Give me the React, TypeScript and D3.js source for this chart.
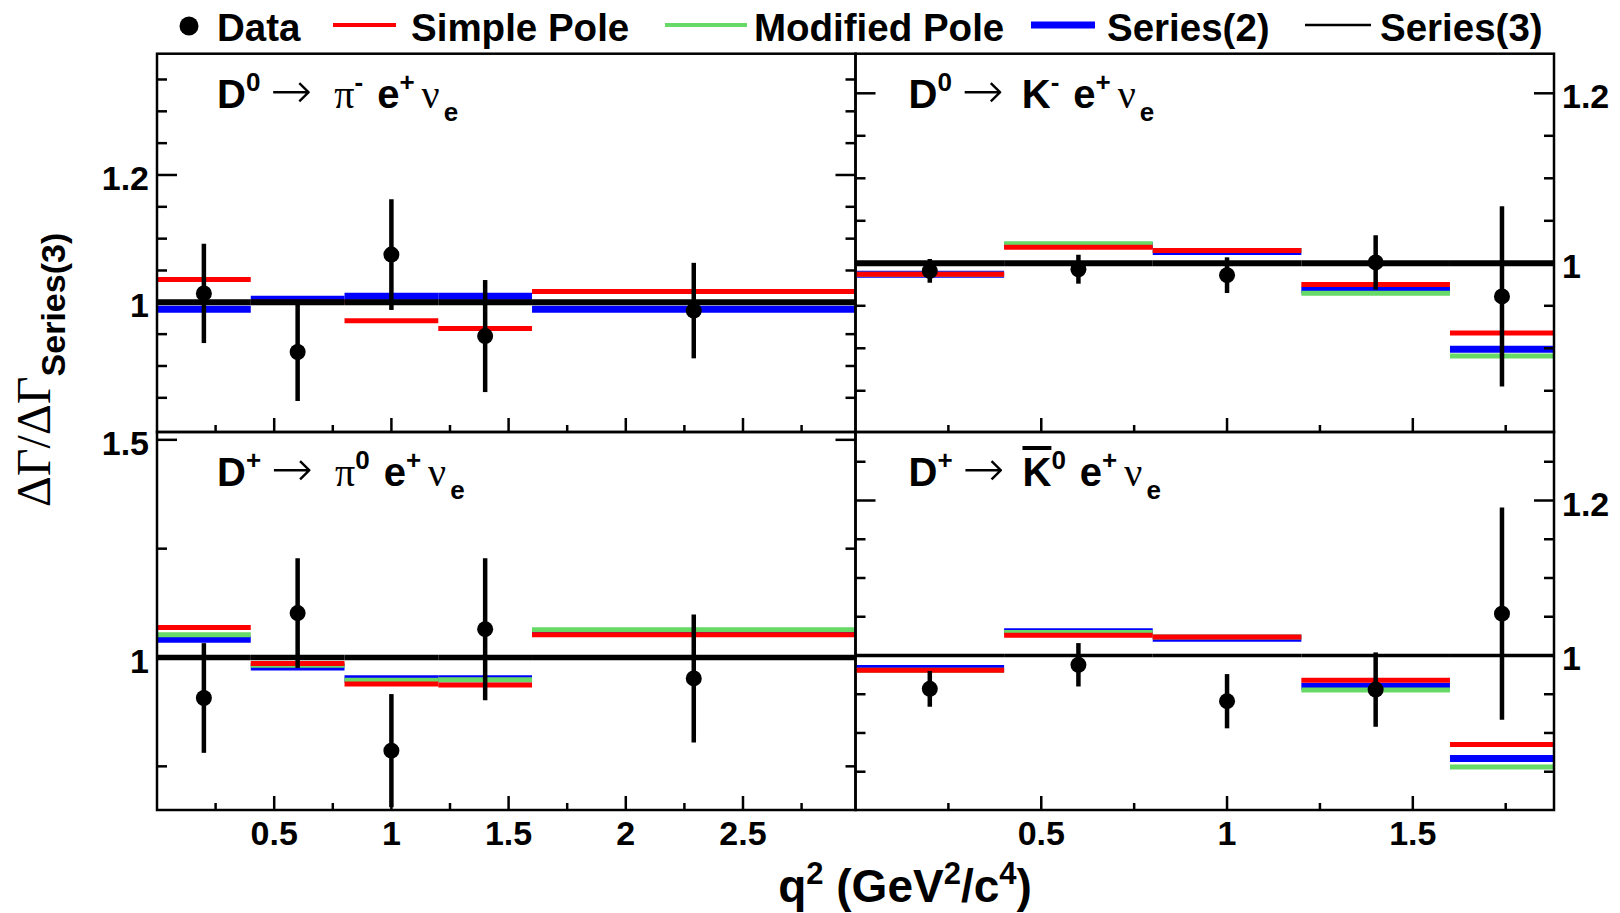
import * as d3 from "d3";

// q^2 bin edges (GeV^2/c^4)
const binsPi = [0, 0.4, 0.8, 1.2, 1.6, 2.98];
const binsK = [0, 0.4, 0.8, 1.2, 1.6, 1.88];

// Series(3) is the reference, so its ratio is 1 in every bin
const series3 = [1, 1, 1, 1, 1];

// D0 -> pi- e+ nu_e
const d0PiData = [1.014, 0.922, 1.075, 0.947, 0.987];
const d0PiErr = [0.078, 0.077, 0.087, 0.088, 0.075];
const d0PiSimple = [1.036, 1.0, 0.971, 0.959, 1.017];
const d0PiModified = [null, null, null, null, null]; // not visible in this pad
const d0PiSeries2 = [0.989, 1.005, 1.0096, 1.0096, 0.989];

// D0 -> K- e+ nu_e
const d0KData = [0.991, 0.993, 0.986, 1.001, 0.961];
const d0KErr = [0.014, 0.017, 0.021, 0.032, 0.106];
const d0KSimple = [0.987, 1.019, 1.015, 0.975, 0.918];
const d0KModified = [0.987, 1.023, 1.015, 0.9647, 0.891];
const d0KSeries2 = [0.987, 1.021, 1.0138, 0.9686, 0.899];

// D+ -> pi0 e+ nu_e
const dpPiData = [0.907, 1.102, 0.786, 1.065, 0.952];
const dpPiErr = [0.126, 0.126, 0.13, 0.163, 0.147];
const dpPiSimple = [1.069, 0.986, 0.939, 0.937, 1.052];
const dpPiModified = [1.052, 0.982, 0.948, 0.949, 1.0636];
const dpPiSeries2 = [1.042, 0.978, 0.951, 0.951, 1.057];

// D+ -> K0bar e+ nu_e
const dpKData = [0.957, 0.988, 0.941, 0.956, 1.054];
const dpKErr = [0.023, 0.028, 0.035, 0.048, 0.137];
const dpKSimple = [0.981, 1.0262, 1.0237, 0.9681, 0.885];
const dpKModified = [0.981, 1.0295, 1.0237, 0.9555, 0.856];
const dpKSeries2 = [0.9832, 1.0305, 1.0222, 0.9603, 0.867];

// tick labels
const xLabelsPi = [0.5, 1, 1.5, 2, 2.5];
const xLabelsK = [0.5, 1, 1.5];
const yLabelsD0Pi = [1, 1.2];
const yLabelsD0K = [1, 1.2];
const yLabelsDpPi = [1, 1.5];
const yLabelsDpK = [1, 1.2];

const legendNames = ["Data", "Simple Pole", "Modified Pole", "Series(2)", "Series(3)"];

const RED = "#ff0000";
const GREEN = "#66d966";
const BLUE = "#0000ff";
const SANS = "'Liberation Sans', Arial, Helvetica, sans-serif";
const SERIF = "'Liberation Serif', 'Times New Roman', serif";
const ARROW_FONT = "'DejaVu Sans', sans-serif";

// pad geometry
const X0 = 157, XM = 855.5, X1 = 1554;
const Y0 = 53.7, YM = 432, Y1 = 810;

const labelD0Pi = [
  { t: "D" }, { t: "0", k: "sup" }, { t: "→", k: "arrow" }, { t: "π", k: "greek" }, { t: "-", k: "sup" },
  { t: "e", k: "e" }, { t: "+", k: "sup" }, { t: "ν", k: "nu" }, { t: "e", k: "sub" },
];
const labelD0K = [
  { t: "D" }, { t: "0", k: "sup" }, { t: "→", k: "arrow" }, { t: "K", k: "after" }, { t: "-", k: "sup" },
  { t: "e", k: "e" }, { t: "+", k: "sup" }, { t: "ν", k: "nu" }, { t: "e", k: "sub" },
];
const labelDpPi = [
  { t: "D" }, { t: "+", k: "sup" }, { t: "→", k: "arrow" }, { t: "π", k: "greek" }, { t: "0", k: "sup" },
  { t: "e", k: "e" }, { t: "+", k: "sup" }, { t: "ν", k: "nu" }, { t: "e", k: "sub" },
];
const labelDpK = [
  { t: "D" }, { t: "+", k: "sup" }, { t: "→", k: "arrow" }, { t: "K", k: "afterbar" }, { t: "0", k: "sup" },
  { t: "e", k: "e" }, { t: "+", k: "sup" }, { t: "ν", k: "nu" }, { t: "e", k: "sub" },
];

const panels = [
  {
    id: "tl", x0: X0, x1: XM, y0: Y0, y1: YM, bins: binsPi, yDomain: [0.7963, 1.3905],
    yMajor: 0.2, yMinor: 0.05, yLabels: yLabelsD0Pi, side: "left", xLabels: null,
    data: d0PiData, err: d0PiErr, simple: d0PiSimple, modified: d0PiModified, series2: d0PiSeries2,
    refWidth: 6, label: labelD0Pi,
  },
  {
    id: "tr", x0: XM, x1: X1, y0: Y0, y1: YM, bins: binsK, yDomain: [0.8015, 1.2466],
    yMajor: 0.2, yMinor: 0.05, yLabels: yLabelsD0K, side: "right", xLabels: null,
    data: d0KData, err: d0KErr, simple: d0KSimple, modified: d0KModified, series2: d0KSeries2,
    refWidth: 6, label: labelD0K,
  },
  {
    id: "bl", x0: X0, x1: XM, y0: YM, y1: Y1, bins: binsPi, yDomain: [0.6497, 1.518],
    yMajor: 0.5, yMinor: 0.25, yLabels: yLabelsDpPi, side: "left", xLabels: xLabelsPi,
    data: dpPiData, err: dpPiErr, simple: dpPiSimple, modified: dpPiModified, series2: dpPiSeries2,
    refWidth: 5.5, label: labelDpPi,
  },
  {
    id: "br", x0: XM, x1: X1, y0: YM, y1: Y1, bins: binsK, yDomain: [0.8006, 1.2884],
    yMajor: 0.2, yMinor: 0.05, yLabels: yLabelsDpK, side: "right", xLabels: xLabelsK,
    data: dpKData, err: dpKErr, simple: dpKSimple, modified: dpKModified, series2: dpKSeries2,
    refWidth: 3.5, label: labelDpK,
  },
];

// evenly spaced tick values inside a domain
function tickValues(lo, hi, step) {
  const out = [];
  for (let i = Math.ceil(lo / step - 1e-9); i * step <= hi + 1e-9; i++) out.push(+(i * step).toFixed(6));
  return out;
}
const isMajor = (v, major) => Math.abs(v / major - Math.round(v / major)) < 1e-6;

function PadLabel({ parts, x, y }) {
  const fs = 40, small = 26, up = -17, down = 13;
  const gaps = { arrow: 10, greek: 22, after: 18, afterbar: 18, e: 14, nu: 7, sub: 4 };
  let shift = 0;
  const spans = parts.map((p, i) => {
    const target = p.k === "sup" ? up : p.k === "sub" ? down : 0;
    const dy = target - shift;
    shift = target;
    const dx = gaps[p.k] || 0;
    const size = p.k === "sup" || p.k === "sub" ? small : p.k === "arrow" ? 50 : fs;
    const serif = p.k === "greek" || p.k === "nu";
    const family = p.k === "arrow" ? ARROW_FONT : serif ? SERIF : SANS;
    return (
      <tspan key={i} dx={dx} dy={dy} fontSize={size} fontFamily={family}
        fontWeight={p.k === "arrow" ? 200 : serif ? "normal" : "bold"}
        style={p.k === "afterbar" ? { textDecoration: "overline" } : undefined}>
        {p.t}
      </tspan>
    );
  });
  return <text x={x} y={y}>{spans}</text>;
}

function Panel({ p }) {
  const x = d3.scaleLinear().domain([p.bins[0], p.bins[p.bins.length - 1]]).range([p.x0, p.x1]);
  const y = d3.scaleLinear().domain(p.yDomain).range([p.y1, p.y0]);
  const clip = `clip-${p.id}`;
  // ticks that would sit on the frame itself are dropped
  const yTicks = tickValues(p.yDomain[0], p.yDomain[1], p.yMinor)
    .filter(v => y(v) > p.y0 + 3 && y(v) < p.y1 - 3);
  const xTicks = tickValues(p.bins[0] + 1e-6, p.bins[p.bins.length - 1], 0.25);
  const centers = d3.range(p.data.length).map(i => (p.bins[i] + p.bins[i + 1]) / 2);

  const steps = (vals, color, width) =>
    vals.map((v, i) => v == null ? null : (
      <line key={i} x1={x(p.bins[i])} x2={x(p.bins[i + 1])} y1={y(v)} y2={y(v)}
        stroke={color} strokeWidth={width} />
    ));

  return (
    <g>
      <defs>
        <clipPath id={clip}>
          <rect x={p.x0} y={p.y0} width={p.x1 - p.x0} height={p.y1 - p.y0} />
        </clipPath>
      </defs>
      <g clipPath={`url(#${clip})`}>
        {steps(p.series2, BLUE, 7)}
        {steps(p.modified, GREEN, 5)}
        {steps(p.simple, RED, 5)}
        {steps(series3, "#000", p.refWidth)}
        {p.data.map((v, i) => (
          <g key={i}>
            <line x1={x(centers[i])} x2={x(centers[i])} y1={y(v - p.err[i])} y2={y(v + p.err[i])}
              stroke="#000" strokeWidth={4.5} />
            <circle cx={x(centers[i])} cy={y(v)} r={8} fill="#000" />
          </g>
        ))}
      </g>
      {/* y ticks on both sides */}
      {yTicks.map(v => {
        const len = isMajor(v, p.yMajor) ? 20 : 10;
        return (
          <g key={v}>
            <line x1={p.x0} x2={p.x0 + len} y1={y(v)} y2={y(v)} stroke="#000" strokeWidth={2.5} />
            <line x1={p.x1} x2={p.x1 - len} y1={y(v)} y2={y(v)} stroke="#000" strokeWidth={2.5} />
          </g>
        );
      })}
      {/* x ticks along the bottom */}
      {xTicks.map(v => {
        const len = isMajor(v, 0.5) ? 14 : 7;
        return <line key={v} x1={x(v)} x2={x(v)} y1={p.y1} y2={p.y1 - len} stroke="#000" strokeWidth={2.5} />;
      })}
      <rect x={p.x0} y={p.y0} width={p.x1 - p.x0} height={p.y1 - p.y0} fill="none" stroke="#000" strokeWidth={2.5} />
      {p.yLabels.map(v => (
        <text key={v} x={p.side === "left" ? p.x0 - 8 : p.x1 + 8} y={y(v) + 15}
          textAnchor={p.side === "left" ? "end" : "start"}
          fontFamily={SANS} fontWeight="bold" fontSize={34}>{String(v)}</text>
      ))}
      {p.xLabels && p.xLabels.map(v => (
        <text key={v} x={x(v)} y={845} textAnchor="middle"
          fontFamily={SANS} fontWeight="bold" fontSize={34}>{String(v)}</text>
      ))}
      <PadLabel parts={p.label} x={p.x0 + (p.side === "left" ? 60 : 53)} y={p.y0 + 54} />
    </g>
  );
}

function Legend() {
  const lineX = [null, [333, 396], [665, 747], [1031, 1095], [1305, 1371]];
  const textX = [217, 411, 754, 1107, 1380];
  const colors = ["#000", RED, GREEN, BLUE, "#000"];
  const widths = [0, 4, 4, 7, 2.5];
  return (
    <g>
      <circle cx={189} cy={26} r={9.5} fill="#000" />
      {legendNames.map((name, i) => (
        <g key={name}>
          {lineX[i] && (
            <line x1={lineX[i][0]} x2={lineX[i][1]} y1={25} y2={25} stroke={colors[i]} strokeWidth={widths[i]} />
          )}
          <text x={textX[i]} y={41} fontFamily={SANS} fontWeight="bold" fontSize={38.5}>{name}</text>
        </g>
      ))}
    </g>
  );
}

export default function App() {
  return (
    <svg width={1620} height={913} viewBox="0 0 1620 913"
      style={{ position: "absolute", left: 0, top: 0, background: "#fff" }}>
      <rect width={1620} height={913} fill="#fff" />
      <Legend />
      {panels.map(p => <Panel key={p.id} p={p} />)}
      <text transform="translate(50,507) rotate(-90)" fontFamily={SERIF} fontSize={48}>
        ΔΓ/ΔΓ
        <tspan fontFamily={SANS} fontWeight="bold" fontSize={34} dy={15}>Series(3)</tspan>
      </text>
      <text x={905} y={902} textAnchor="middle" fontFamily={SANS} fontWeight="bold" fontSize={46}>
        q<tspan fontSize={31} dy={-18}>2</tspan>
        <tspan dy={18}> (GeV</tspan>
        <tspan fontSize={31} dy={-18}>2</tspan>
        <tspan dy={18}>/c</tspan>
        <tspan fontSize={31} dy={-18}>4</tspan>
        <tspan dy={18}>)</tspan>
      </text>
    </svg>
  );
}
